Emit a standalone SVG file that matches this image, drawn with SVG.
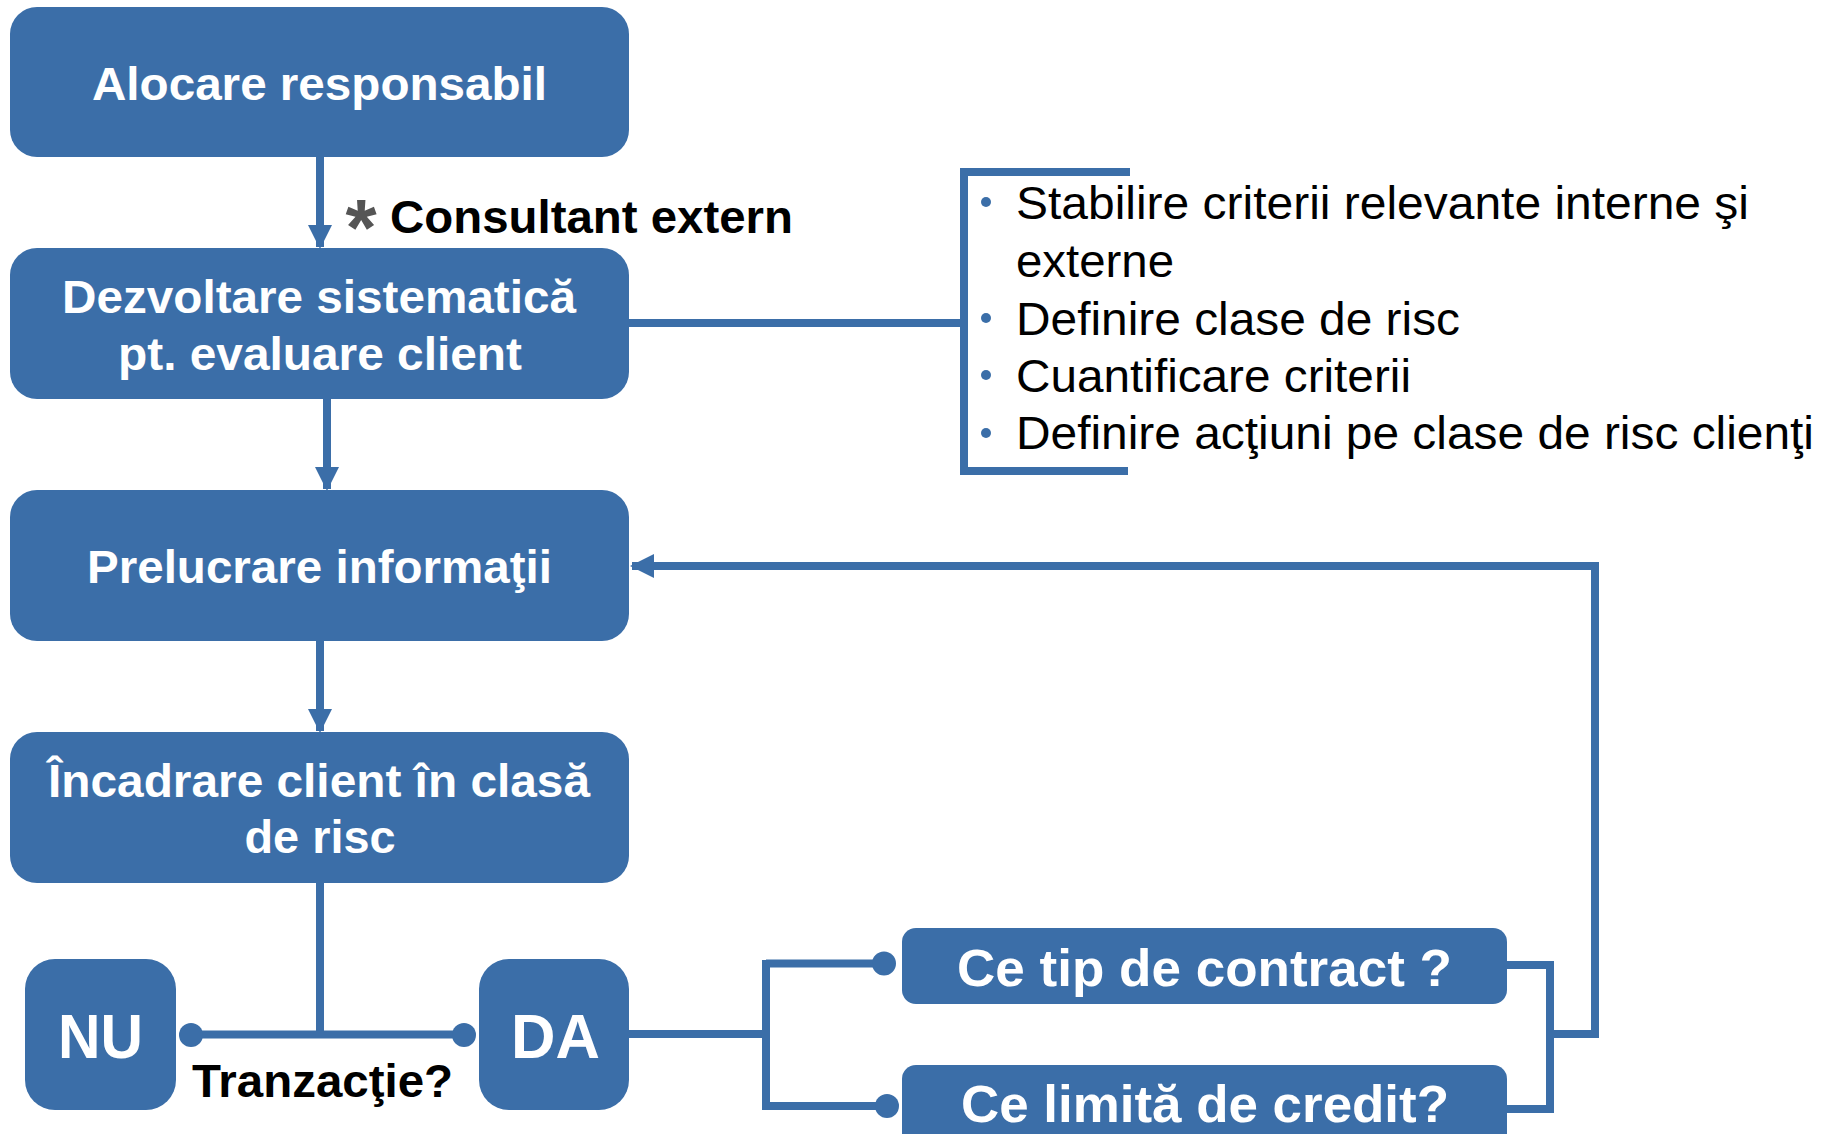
<svg xmlns="http://www.w3.org/2000/svg" width="1832" height="1134" viewBox="0 0 1832 1134">
<style>
.box{fill:#3B6EA8}
.nt{font-family:"Liberation Sans Narrow","Liberation Sans",Arial,sans-serif;font-weight:bold;fill:#fff;text-anchor:middle}
.bt{font-family:"Liberation Sans Narrow","Liberation Sans",Arial,sans-serif;fill:#000;font-size:47px}
.lbl{font-family:"Liberation Sans Narrow","Liberation Sans",Arial,sans-serif;font-weight:bold;fill:#000}
.ln{fill:none;stroke:#3B6EA8;stroke-width:8}
.dot{fill:#3B6EA8}
</style>
<defs>
<marker id="arr" markerUnits="userSpaceOnUse" markerWidth="24" markerHeight="24" refX="22" refY="12" orient="auto">
<path d="M0,0 L24,12 L0,24 z" fill="#3B6EA8"/>
</marker>
</defs>
<rect width="1832" height="1134" fill="#fff"/>
<g id="connectors">
<line class="ln" x1="320" y1="157" x2="320" y2="247" marker-end="url(#arr)"/>
<line class="ln" x1="327" y1="399" x2="327" y2="489" marker-end="url(#arr)"/>
<line class="ln" x1="320" y1="641" x2="320" y2="731" marker-end="url(#arr)"/>
<line class="ln" x1="629" y1="323" x2="964" y2="323"/>
<path class="ln" d="M1130,172 H964 V471 H1128"/>
<path class="ln" d="M320,883 V1034"/>
<path class="ln" d="M191,1034.5 H464"/>
<circle class="dot" cx="191" cy="1035" r="12"/>
<circle class="dot" cx="464" cy="1035" r="12"/>
<path class="ln" d="M629,1034 H766"/>
<path class="ln" d="M766,960 V1110"/>
<path class="ln" d="M766,963.5 H884"/>
<path class="ln" d="M766,1106 H887"/>
<circle class="dot" cx="884" cy="963.5" r="12"/>
<circle class="dot" cx="887" cy="1106" r="12"/>
<path class="ln" d="M1507,965 H1550 V1109 H1507"/>
<path class="ln" d="M1550,1034 H1595 V566 H632" marker-end="url(#arr)"/>
</g>
<g id="alocare">
<rect class="box" x="10" y="7" width="619" height="150" rx="27"/>
<text class="nt" x="319.5" y="100" font-size="46" textLength="455" lengthAdjust="spacingAndGlyphs">Alocare responsabil</text>
</g>
<g id="consultant">
<text x="361" y="255" font-family="Liberation Sans,Arial,sans-serif" font-weight="bold" font-size="80" fill="#555" text-anchor="middle">*</text>
<text class="lbl" x="390" y="233" font-size="46" textLength="403" lengthAdjust="spacingAndGlyphs">Consultant extern</text>
</g>
<g id="dezvoltare">
<rect class="box" x="10" y="248" width="619" height="151" rx="27"/>
<text class="nt" x="319" y="313" font-size="46" textLength="514" lengthAdjust="spacingAndGlyphs">Dezvoltare sistematică</text>
<text class="nt" x="320" y="370" font-size="46" textLength="404" lengthAdjust="spacingAndGlyphs">pt. evaluare client</text>
</g>
<g id="criterii">
<circle class="dot" cx="986" cy="202" r="5"/>
<circle class="dot" cx="986" cy="318" r="5"/>
<circle class="dot" cx="986" cy="375" r="5"/>
<circle class="dot" cx="986" cy="433" r="5"/>
<text class="bt" x="1016" y="219" textLength="733" lengthAdjust="spacingAndGlyphs">Stabilire criterii relevante interne şi</text>
<text class="bt" x="1016" y="277" textLength="158" lengthAdjust="spacingAndGlyphs">externe</text>
<text class="bt" x="1016" y="335" textLength="444" lengthAdjust="spacingAndGlyphs">Definire clase de risc</text>
<text class="bt" x="1016" y="392" textLength="395" lengthAdjust="spacingAndGlyphs">Cuantificare criterii</text>
<text class="bt" x="1016" y="449" textLength="798" lengthAdjust="spacingAndGlyphs">Definire acţiuni pe clase de risc clienţi</text>
</g>
<g id="prelucrare">
<rect class="box" x="10" y="490" width="619" height="151" rx="27"/>
<text class="nt" x="319.5" y="583" font-size="46" textLength="465" lengthAdjust="spacingAndGlyphs">Prelucrare informaţii</text>
</g>
<g id="incadrare">
<rect class="box" x="10" y="732" width="619" height="151" rx="27"/>
<text class="nt" x="319" y="797" font-size="46" textLength="542" lengthAdjust="spacingAndGlyphs">Încadrare client în clasă</text>
<text class="nt" x="320" y="853" font-size="46" textLength="151" lengthAdjust="spacingAndGlyphs">de risc</text>
</g>
<g id="nu">
<rect class="box" x="25" y="959" width="151" height="151" rx="30"/>
<text class="nt" x="100.5" y="1058" font-size="63" textLength="85" lengthAdjust="spacingAndGlyphs">NU</text>
</g>
<g id="tranzactie">
<text class="lbl" x="192" y="1097" font-size="47" textLength="261" lengthAdjust="spacingAndGlyphs">Tranzacţie?</text>
</g>
<g id="da">
<rect class="box" x="479" y="959" width="150" height="151" rx="30"/>
<text class="nt" x="555.5" y="1058" font-size="63" textLength="89" lengthAdjust="spacingAndGlyphs">DA</text>
</g>
<g id="contract">
<rect class="box" x="902" y="928" width="605" height="76" rx="14"/>
<text class="nt" x="1204.5" y="986" font-size="52" textLength="495" lengthAdjust="spacingAndGlyphs">Ce tip de contract ?</text>
</g>
<g id="credit">
<rect class="box" x="902" y="1065" width="605" height="100" rx="14"/>
<text class="nt" x="1205" y="1122" font-size="52" textLength="488" lengthAdjust="spacingAndGlyphs">Ce limită de credit?</text>
</g>
</svg>
